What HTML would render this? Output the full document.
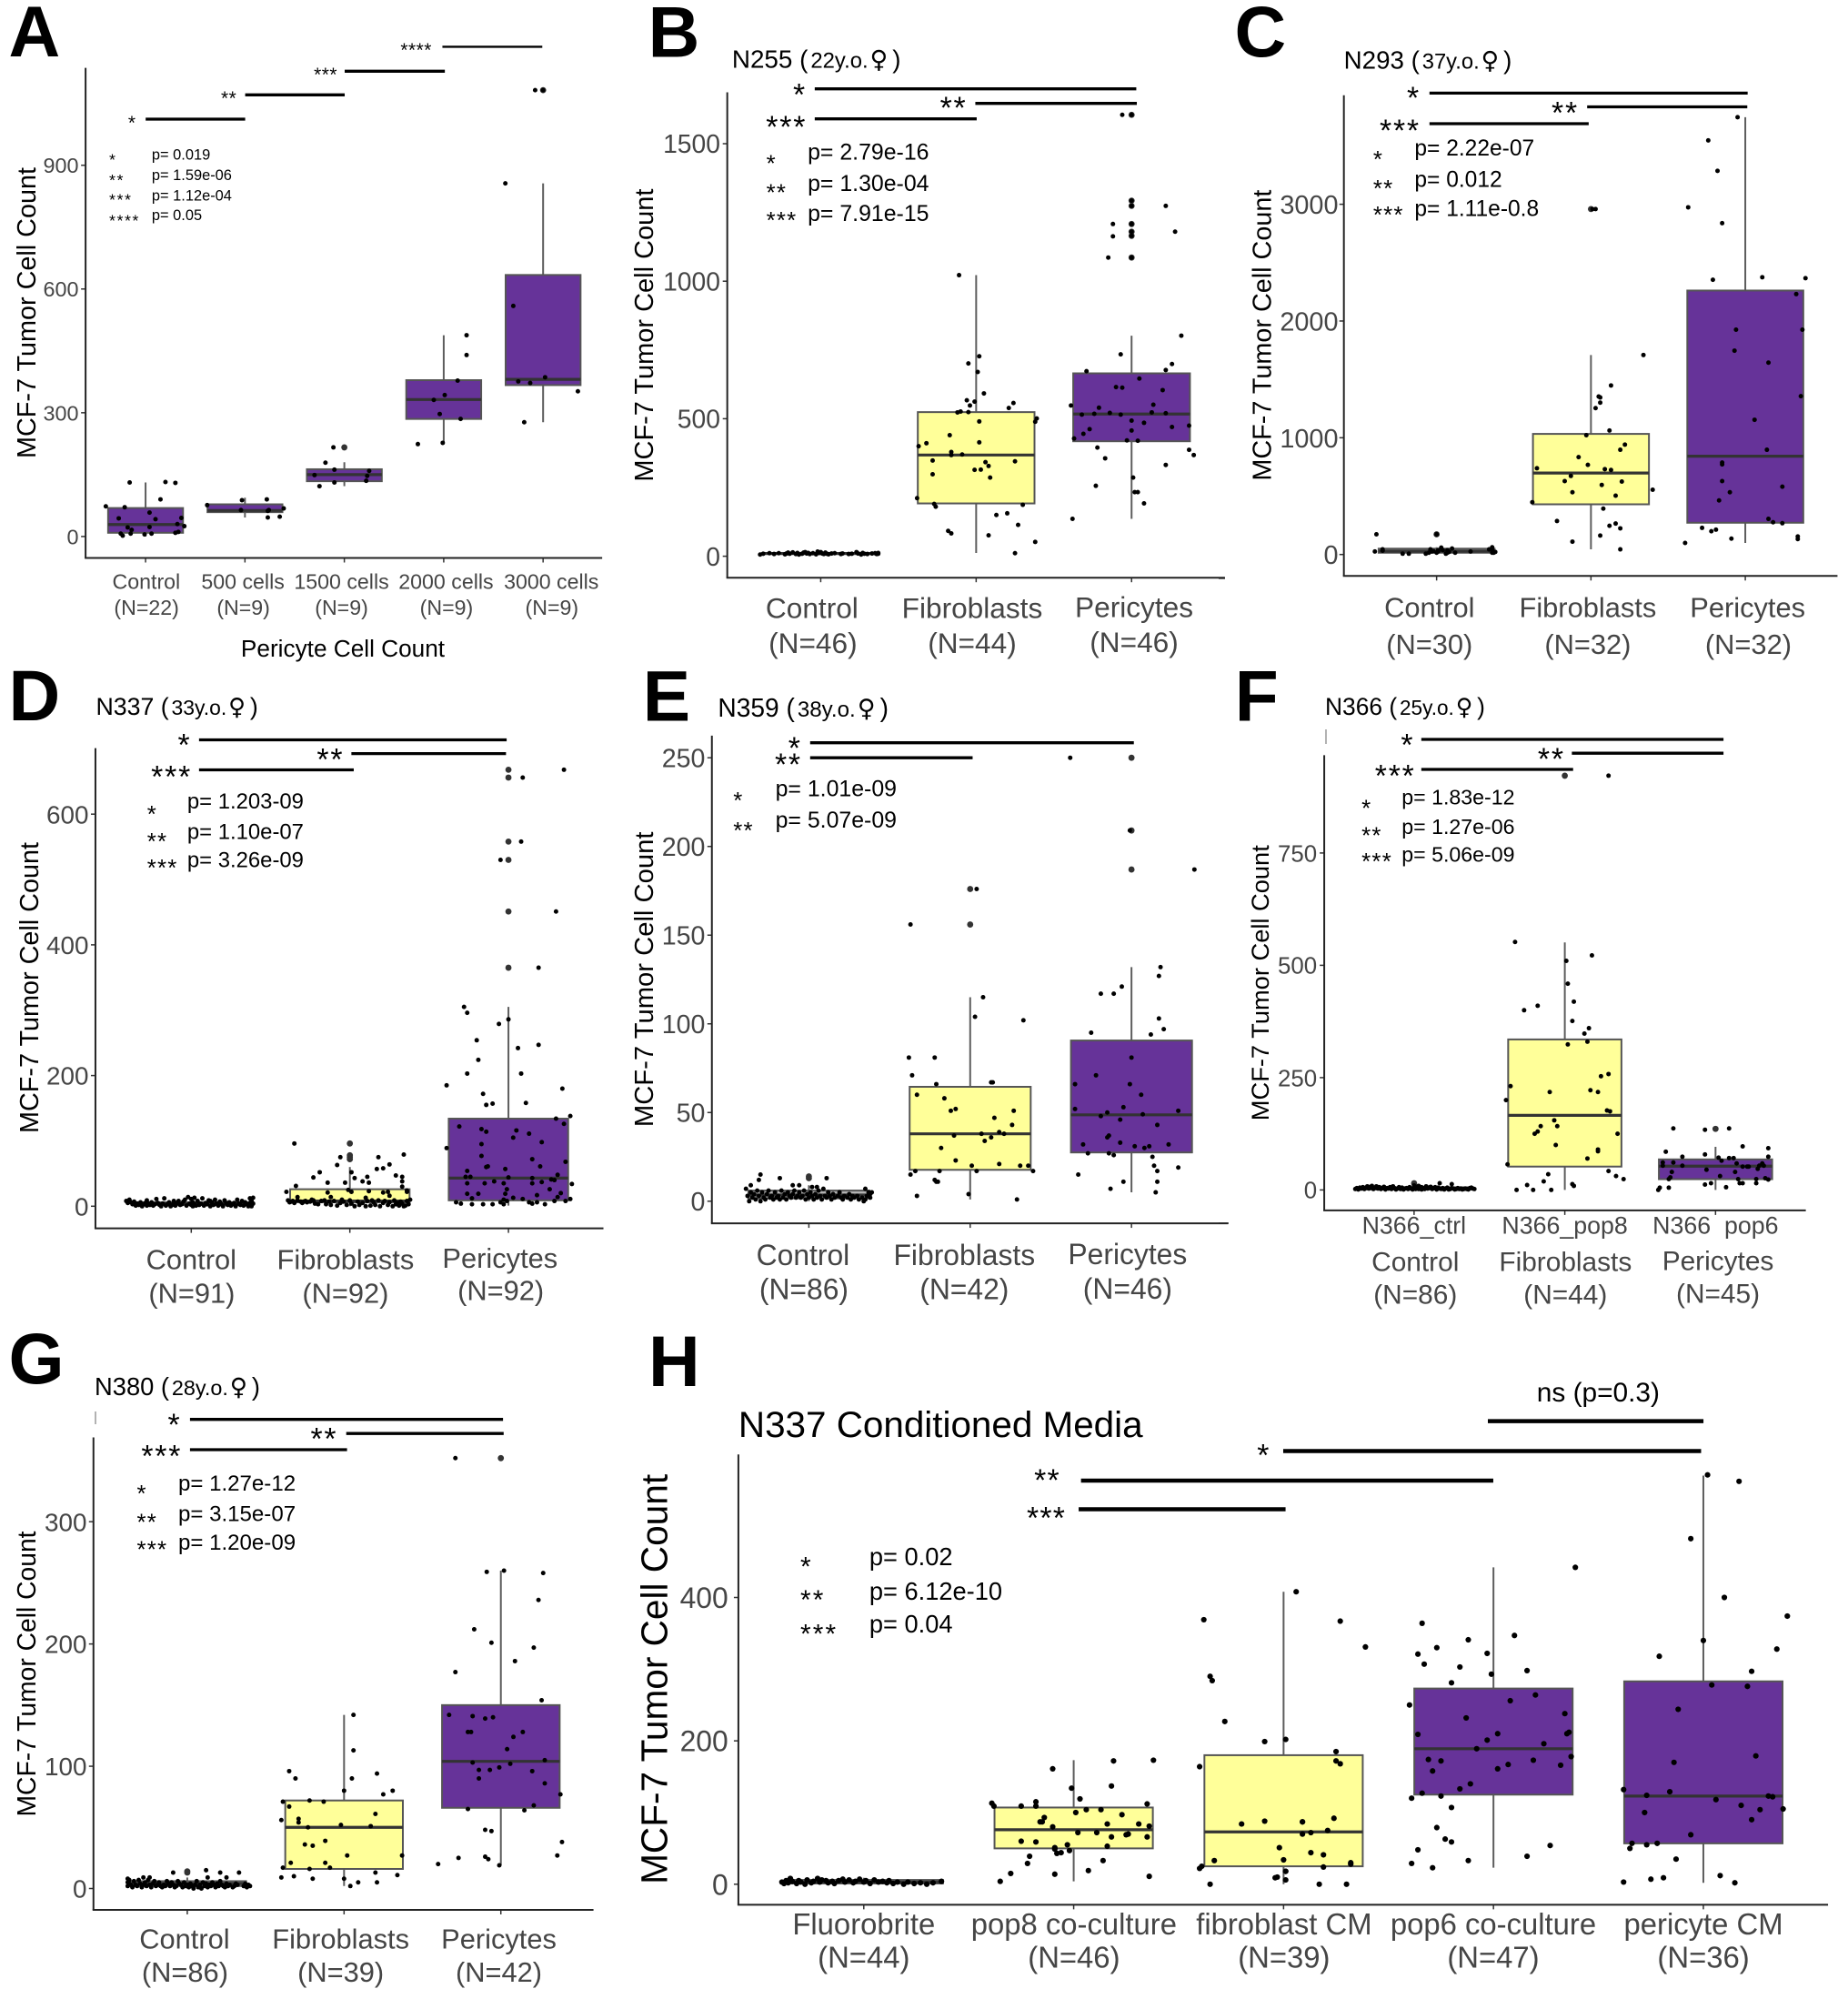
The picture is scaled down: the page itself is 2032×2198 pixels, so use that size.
<!DOCTYPE html>
<html lang="en">
<head>
<meta charset="utf-8">
<title>MCF-7 Tumor Cell Count box plots</title>
<style>
html,body{margin:0;padding:0;background:#fff;}
svg{display:block;font-family:"Liberation Sans",sans-serif;}
.letter{font-weight:700;font-size:78.5px;fill:#000;}
</style>
</head>
<body>
<svg id="figure" width="2032" height="2198" viewBox="0 0 2032 2198" xmlns="http://www.w3.org/2000/svg">
<rect x="0" y="0" width="2032" height="2198" fill="#ffffff"/>
<text class="letter" x="9.5" y="62">A</text>
<text class="letter" x="712.6" y="62.3">B</text>
<text class="letter" x="1357.5" y="62">C</text>
<text class="letter" x="9.5" y="792">D</text>
<text class="letter" x="706.8" y="792.5">E</text>
<text class="letter" x="1357.7" y="792.5">F</text>
<text class="letter" x="9.5" y="1521">G</text>
<text class="letter" x="713" y="1524">H</text>
<line x1="1340" y1="636" x2="1347" y2="636" stroke="#444" stroke-width="1.5"/>
<line x1="1340" y1="1345" x2="1351" y2="1345" stroke="#444" stroke-width="1.5"/>
<line x1="1458" y1="802" x2="1458" y2="818" stroke="#999" stroke-width="1.5"/>
<line x1="105" y1="1552" x2="105" y2="1566" stroke="#999" stroke-width="1.5"/>
</svg>
<script>
/* ---------- Panel A data ---------- */
const aCategories=["Control","500 cells","1500 cells","2000 cells","3000 cells"];
const aCounts=["(N=22)","(N=9)","(N=9)","(N=9)","(N=9)"];
const aTicks=[0,300,600,900];
const aQ1=[9,59,134,285,367];
const aMedian=[29,63,150,332,381];
const aQ3=[69,78,163,379,634];
const aLow=[0,46,122,226,277];
const aHigh=[131,94,180,488,856];
const aOutliers=[[],[],[216],[],[1082]];
const aPoints=[
[[-40,73],[-16,131],[20,132],[30,130],[15,90],[-21,71],[4,58],[-27,44],[10,42],[36,45],[32,30],[39,25],[-18,22],[-14,16],[4,23],[-25,7],[-15,7],[6,7],[-1,5],[-23,2],[30,9],[33,11]],
[[-38,76],[-3,88],[22,90],[-4,64],[23,62],[24,64],[39,68],[35,48],[23,46]],
[[-11,216],[-19,179],[-10,162],[-30,149],[-25,122],[-10,131],[25,159],[23,147],[22,135]],
[[23,488],[23,440],[14,378],[1,343],[-10,331],[-4,297],[17,285],[-26,224],[-1,227]],
[[-8,1082],[-38,856],[-30,559],[2,386],[-25,376],[-13,372],[35,352],[-19,277],[0,1082]]
];

/* ---------- Panel B data ---------- */
const bCategories=["Control","Fibroblasts","Pericytes"];
const bCounts=["(N=46)","(N=44)","(N=46)"];
const bTicks=[0,500,1000,1500];
const bQ1=[8,192,418];
const bMedian=[10,368,517];
const bQ3=[12,524,665];
const bLow=[6,12,136];
const bHigh=[17,1022,802];
const bOutliers=[[],[],[1605,1293,1274,1208,1180,1165,1086]];
const bPoints=[
[[-39,6],[-37,9],[-33,11],[-30,8],[-27,11],[-23,7],[-22,10],[-21,13],[-20,9],[-18,14],[-16,8],[-15,12],[-14,6],[-12,9],[-11,13],[-10,15],[-9,10],[-8,12],[-7,8],[-5,11],[-3,7],[-2,17],[-1,12],[0,15],[1,10],[2,8],[3,13],[4,9],[5,7],[7,10],[9,11],[13,8],[14,10],[18,8],[20,9],[23,15],[24,10],[26,6],[27,12],[28,9],[30,8],[33,10],[35,11],[36,8],[37,12],[37,9]],
[[-11,1022],[2,727],[-5,701],[1,670],[5,592],[-6,567],[-1,562],[-4,548],[24,557],[21,539],[-12,523],[-10,526],[-5,524],[39,501],[38,489],[2,490],[-17,440],[2,414],[-37,400],[-32,411],[-16,379],[-16,368],[-9,370],[-28,348],[25,345],[6,342],[8,328],[3,315],[-1,314],[-28,298],[9,286],[-38,211],[-27,190],[-26,180],[13,150],[20,156],[30,187],[27,114],[-18,92],[-16,83],[8,76],[38,52],[25,11]],
[[-6,1605],[0,1605],[0,1293],[0,1274],[22,1274],[-12,1208],[0,1208],[28,1180],[0,1180],[0,1165],[-12,1163],[-15,1086],[0,1086],[32,802],[-7,734],[26,699],[22,677],[-29,673],[5,646],[-10,615],[-6,613],[20,604],[-39,548],[-21,540],[14,551],[-14,521],[-24,518],[-32,515],[-7,515],[13,523],[22,520],[0,493],[8,485],[-27,462],[26,470],[37,475],[0,457],[-31,445],[-37,428],[-3,421],[4,420],[-22,395],[37,387],[40,368],[-17,356],[22,332],[1,286],[-23,256],[2,233],[4,233],[8,192],[-38,136]]
];

/* ---------- Panel C data ---------- */
const cCategories=["Control","Fibroblasts","Pericytes"];
const cCounts=["(N=30)","(N=32)","(N=32)"];
const cTicks=[0,1000,2000,3000];
const cQ1=[15,430,272];
const cMedian=[29,698,842];
const cQ3=[50,1033,2261];
const cLow=[7,44,99];
const cHigh=[62,1709,3746];
const cOutliers=[[173],[2959],[]];
const cPoints=[
[[-39,173],[0,173],[-40,26],[-35,44],[-35,33],[-22,7],[-18,7],[-7,7],[-4,44],[-3,26],[0,15],[1,37],[3,59],[4,37],[6,7],[7,37],[8,22],[10,51],[12,15],[22,26],[34,44],[36,62],[37,15],[38,22],[36,44],[-2,29],[-5,15],[1,26],[7,15],[36,15]],
[[1,2959],[3,2959],[34,1709],[13,1448],[5,1353],[6,1345],[6,1301],[3,1254],[12,1062],[-3,1022],[22,941],[19,897],[-8,834],[-2,768],[-35,739],[9,731],[13,724],[-13,673],[-17,629],[20,625],[7,596],[40,555],[-12,533],[16,504],[-38,448],[8,393],[-22,287],[16,265],[12,246],[19,224],[6,162],[-12,110],[19,44]],
[[-5,3746],[-24,3547],[-18,3286],[-37,2974],[-15,2838],[-21,2353],[11,2375],[39,2367],[33,2231],[-6,1926],[37,1926],[-7,1746],[15,1643],[36,1356],[6,1154],[14,897],[-15,787],[-15,772],[-15,629],[24,581],[-10,533],[-17,463],[15,305],[18,276],[24,268],[-28,228],[-22,199],[-19,213],[-9,136],[34,154],[34,132],[-39,99]]
];

/* ---------- Panel D data ---------- */
const dCategories=["Control","Fibroblasts","Pericytes"];
const dCounts=["(N=91)","(N=92)","(N=92)"];
const dTicks=[0,200,400,600];
const dQ1=[2,6,9];
const dMedian=[4,8,43];
const dQ3=[6,26,134];
const dLow=[0,0,1];
const dHigh=[12,60,305];
const dOutliers=[[],[96,78,75,72],[668,656,558,530,451,365]];
const dPoints=[
[[-41,8],[-40,5],[-39,10],[-38,6],[-37,3],[-36,7],[-35,1],[-34,4],[-33,2],[-32,6],[-31,0],[-30,3],[-29,5],[-28,1],[-27,4],[-26,2],[-25,6],[-24,1],[-23,3],[-22,11],[-21,5],[-20,2],[-19,0],[-18,4],[-17,12],[-16,1],[-15,3],[-14,6],[-13,0],[-12,2],[-11,4],[-10,1],[-9,5],[-8,8],[-7,2],[-6,3],[-5,7],[-4,10],[-3,1],[-2,14],[-1,4],[0,11],[0,2],[1,6],[1,0],[2,13],[2,3],[3,1],[4,8],[5,2],[6,4],[7,12],[8,1],[9,5],[10,3],[11,9],[12,0],[13,6],[14,2],[15,10],[16,4],[17,1],[18,7],[19,3],[20,0],[21,9],[22,5],[23,2],[24,6],[25,1],[26,3],[27,5],[28,0],[29,10],[30,4],[31,2],[32,8],[33,1],[34,6],[35,3],[36,0],[37,5],[37,12],[38,2],[38,8],[39,13],[39,4],[38,0],[-28,9],[12,8],[-11,8]],
[[-35,96],[34,79],[-6,75],[18,75],[25,64],[21,58],[17,57],[-8,63],[-19,52],[-23,44],[1,52],[3,43],[11,45],[29,47],[33,45],[33,38],[33,30],[-14,36],[-3,36],[8,38],[12,36],[-34,31],[-1,25],[1,22],[-14,21],[36,24],[-40,22],[12,23],[21,21],[24,22],[36,22],[-12,14],[10,13],[25,16],[-33,14],[-39,9],[-38,6],[-36,8],[-35,5],[-33,9],[-31,7],[-30,5],[-28,8],[-27,6],[-25,7],[-23,9],[-22,4],[-20,3],[-18,8],[-16,9],[-15,3],[-13,7],[-12,2],[-10,8],[-8,1],[-6,5],[-4,7],[-2,2],[0,9],[1,4],[3,0],[5,7],[6,2],[8,5],[10,0],[11,8],[13,1],[15,6],[16,2],[18,9],[19,0],[21,5],[22,8],[24,2],[25,6],[27,0],[28,9],[29,3],[31,1],[32,7],[33,4],[35,1],[36,8],[37,3],[38,10],[34,0],[30,5],[-37,7],[-29,7],[-5,10],[14,9],[-24,10]],
[[35,668],[9,656],[8,558],[-5,530],[30,451],[19,365],[-28,305],[-26,296],[0,286],[-6,279],[-20,254],[19,247],[6,242],[-19,224],[-26,203],[8,203],[-39,185],[34,180],[-16,172],[-14,155],[-10,157],[11,158],[30,134],[39,138],[-31,122],[-17,118],[-14,114],[5,116],[13,111],[3,105],[21,98],[-17,95],[-39,89],[-17,77],[15,72],[36,68],[35,126],[20,61],[-14,60],[-13,61],[-2,57],[-26,54],[31,48],[-27,45],[-24,45],[15,43],[21,37],[27,41],[29,40],[-26,35],[-15,35],[-9,38],[-3,35],[0,44],[15,35],[40,34],[26,26],[-1,26],[-26,19],[-19,19],[-2,19],[18,17],[33,20],[-23,12],[3,13],[31,14],[9,11],[-3,10],[39,11],[29,8],[-33,6],[-30,4],[-23,3],[-16,3],[-10,3],[-3,3],[-1,8],[13,6],[15,4],[23,3],[36,8],[18,6],[-5,6]]
];

/* ---------- Panel E data ---------- */
const eCategories=["Control","Fibroblasts","Pericytes"];
const eCounts=["(N=86)","(N=42)","(N=46)"];
const eTicks=[0,50,100,150,200,250];
const eQ1=[1.6,17.7,27.5];
const eMedian=[3.5,38,48.7];
const eQ3=[6,64.5,90.6];
const eLow=[0,1,5];
const eHigh=[9,115,132];
const eOutliers=[[14,13],[176,156],[250,209,187]];
const ePoints=[
[[-30,15],[-31,12],[-18,13],[11,13],[-36,9],[-10,9],[-6,9],[2,8],[5,8],[35,7],[-39,7],[-38,3],[-37,0],[-36,5],[-35,2],[-34,4],[-33,1],[-32,6],[-31,3],[-30,0],[-29,5],[-28,2],[-27,1],[-26,4],[-25,6],[-24,2],[-23,3],[-22,1],[-21,5],[-20,2],[-19,3],[-18,1],[-17,6],[-16,2],[-15,4],[-14,1],[-13,5],[-12,3],[-11,2],[-10,4],[-9,6],[-8,2],[-7,3],[-6,5],[-5,2],[-4,3],[-3,6],[-2,1],[-1,4],[0,2],[1,5],[2,3],[3,1],[4,4],[5,2],[6,6],[7,3],[8,1],[9,7],[10,3],[11,2],[12,5],[13,3],[14,1],[15,4],[16,2],[18,3],[19,5],[20,2],[21,1],[22,3],[24,2],[25,4],[26,1],[27,3],[28,2],[30,3],[31,1],[33,2],[34,0],[35,1],[36,3],[37,5],[38,4],[38,2],[39,5]],
[[4,176],[-37,156],[8,115],[3,104],[33,102],[-38,81],[-22,81],[-36,71],[13,67],[14,67],[-21,66],[-33,60],[-16,58],[-12,51],[-9,52],[27,51],[15,47],[26,43],[18,39],[7,38],[-10,37],[21,38],[13,36],[9,34],[-18,30],[-9,23],[18,21],[31,20],[36,20],[1,20],[-34,17],[-19,17],[4,17],[39,17],[-37,15],[-22,12],[-21,11],[-20,11],[-1,4],[-33,3],[29,1]],
[[-38,250],[-1,209],[39,187],[18,132],[17,127],[-6,121],[-19,117],[-11,117],[17,103],[20,97],[-25,95],[12,94],[0,81],[-22,71],[-1,66],[-35,66],[6,60],[-5,53],[-35,52],[29,51],[-15,50],[-19,48],[7,49],[-7,46],[16,43],[-15,36],[-14,37],[-7,33],[23,32],[-30,32],[2,31],[11,31],[8,30],[-14,27],[-27,27],[-11,26],[13,25],[14,20],[29,19],[16,17],[-33,15],[-5,11],[16,11],[-13,7],[15,5]]
];

/* ---------- Panel F data ---------- */
const fCategories=["Control","Fibroblasts","Pericytes"];
const fCounts=["(N=86)","(N=44)","(N=45)"];
const fSubLabels=["N366_ctrl","N366_pop8","N366\u00a0\u00a0pop6"];
const fTicks=[0,250,500,750];
const fQ1=[1,52,24];
const fMedian=[3,166,53];
const fQ3=[6,335,68];
const fLow=[0,0,0];
const fHigh=[10,551,96];
const fOutliers=[[15],[922],[136]];
const fPoints=[
[[17,15],[25,13],[-39,2],[-38,4],[-37,1],[-36,5],[-35,3],[-34,6],[-33,2],[-32,5],[-31,8],[-30,3],[-29,6],[-28,9],[-27,2],[-26,5],[-25,8],[-24,3],[-23,6],[-22,2],[-21,4],[-20,7],[-19,1],[-18,4],[-17,3],[-16,6],[-15,2],[-14,8],[-13,4],[-12,1],[-11,3],[-10,6],[-9,2],[-8,5],[-7,1],[-6,3],[-5,4],[-4,2],[-3,6],[-2,3],[-1,1],[0,10],[0,4],[1,7],[1,2],[2,5],[3,2],[3,9],[4,3],[5,1],[5,6],[6,4],[7,2],[8,8],[9,3],[10,5],[11,7],[12,2],[13,4],[14,6],[15,1],[16,5],[17,3],[18,2],[19,4],[20,1],[21,3],[22,5],[23,1],[24,2],[25,4],[26,3],[27,1],[28,2],[29,4],[30,2],[31,3],[32,1],[33,2],[34,3],[35,2],[36,1],[37,4],[38,5],[39,3],[40,2]],
[[29,922],[-33,552],[18,522],[1,510],[2,459],[6,419],[-27,400],[-18,410],[5,376],[16,360],[13,348],[15,330],[2,324],[29,258],[24,253],[-36,231],[17,222],[22,218],[-10,218],[-39,200],[28,177],[30,175],[-7,155],[-16,142],[-5,142],[-18,130],[-20,125],[35,125],[-6,100],[22,90],[22,86],[15,70],[-38,57],[29,42],[-11,35],[34,31],[39,24],[-14,19],[5,13],[6,9],[-25,11],[-32,0],[-21,0],[-9,0]],
[[-28,137],[-7,134],[9,137],[18,97],[35,93],[-33,85],[-7,79],[-22,74],[9,71],[12,71],[35,74],[4,65],[-35,61],[-28,61],[14,59],[31,59],[-35,54],[-22,54],[18,52],[21,52],[22,52],[29,54],[32,54],[28,47],[-29,40],[13,40],[3,31],[-30,28],[-31,24],[15,24],[27,24],[33,26],[35,23],[16,15],[-7,12],[-3,15],[18,15],[27,15],[7,6],[-31,5],[-37,5],[-38,0],[2,72],[-6,45]]
];

/* ---------- Panel G data ---------- */
const gCategories=["Control","Fibroblasts","Pericytes"];
const gCounts=["(N=86)","(N=39)","(N=42)"];
const gTicks=[0,100,200,300];
const gQ1=[2,16,66];
const gMedian=[4,50,104];
const gQ3=[6,72,150];
const gLow=[0,2,19];
const gHigh=[9,142,260];
const gOutliers=[[14,13],[],[352]];
const gPoints=[
[[-9,13],[12,15],[21,13],[33,13],[25,9],[13,9],[-24,9],[-28,9],[-38,8],[-38,5],[-38,2],[-37,7],[-37,4],[-36,3],[-35,1],[-34,6],[-33,3],[-32,2],[-31,7],[-30,4],[-29,1],[-28,3],[-27,5],[-26,2],[-25,7],[-24,3],[-23,1],[-22,4],[-21,6],[-20,2],[-19,3],[-18,5],[-17,2],[-16,1],[-15,3],[-14,2],[-13,6],[-12,4],[-11,2],[-10,5],[-9,3],[-8,1],[-7,2],[-6,6],[-5,4],[-4,3],[-3,1],[-2,5],[-1,2],[0,3],[1,1],[2,4],[3,2],[4,0],[5,3],[6,6],[7,1],[8,3],[9,0],[10,5],[11,2],[12,4],[13,1],[14,3],[15,2],[16,5],[17,3],[18,1],[19,4],[20,2],[21,6],[22,3],[23,2],[24,1],[25,4],[26,2],[27,3],[29,1],[30,2],[31,4],[32,3],[36,2],[37,4],[38,1],[39,3],[40,2]],
[[6,142],[6,113],[-35,96],[-31,90],[5,90],[21,94],[0,80],[31,80],[25,77],[-22,72],[-39,71],[-13,71],[-35,67],[20,61],[-40,56],[-29,57],[-29,54],[-23,50],[-2,52],[17,51],[-12,39],[-25,36],[-20,35],[2,27],[37,27],[-34,21],[-12,21],[-9,17],[-39,17],[-22,16],[20,13],[34,11],[-40,9],[-32,10],[-20,8],[0,8],[9,5],[21,5],[4,2]],
[[-29,352],[2,260],[-9,259],[27,258],[24,236],[-17,212],[-6,201],[21,197],[9,186],[-29,177],[26,154],[-33,142],[-18,141],[-10,139],[-5,140],[-21,128],[-19,128],[14,128],[8,124],[4,114],[-18,103],[6,102],[28,105],[-14,97],[-7,97],[-1,99],[20,96],[-14,90],[28,86],[38,77],[21,68],[-21,65],[15,64],[-10,48],[-6,47],[39,38],[36,27],[-10,26],[-8,24],[-27,25],[-40,20],[-1,19]]
];

/* ---------- Panel H data ---------- */
const hCategories=["Fluorobrite","pop8 co-culture","fibroblast CM","pop6 co-culture","pericyte CM"];
const hCounts=["(N=44)","(N=46)","(N=39)","(N=47)","(N=36)"];
const hTicks=[0,200,400];
const hQ1=[1,50,25,125,57];
const hMedian=[3,76,73,189,123];
const hQ3=[6,107,180,273,283];
const hLow=[0,4,0,23,2];
const hHigh=[9,173,408,442,570];
const hOutliers=[[],[],[],[],[]];
const hPoints=[
[[-39,3],[-38,1],[-37,5],[-36,2],[-35,8],[-34,4],[-32,1],[-31,5],[-30,3],[-28,0],[-27,6],[-25,2],[-24,4],[-22,8],[-21,3],[-20,6],[-18,5],[-17,2],[-15,4],[-14,1],[-12,5],[-10,7],[-9,3],[-7,6],[-5,2],[-4,4],[-2,7],[0,3],[1,5],[3,1],[5,6],[7,3],[9,4],[11,2],[12,5],[14,1],[16,3],[19,0],[21,3],[24,1],[27,2],[30,0],[33,2],[37,4]],
[[-10,161],[19,172],[38,173],[18,137],[-1,134],[3,119],[-39,113],[-38,109],[-25,109],[-18,115],[-18,109],[35,112],[1,100],[6,104],[13,104],[23,97],[-14,93],[-16,87],[-15,87],[16,84],[31,84],[-10,80],[36,81],[2,72],[11,72],[26,70],[25,69],[18,66],[35,66],[-25,60],[-18,59],[-3,55],[16,53],[-9,51],[-2,47],[-6,44],[-21,39],[14,33],[-22,29],[7,19],[-30,15],[-9,14],[36,11],[-35,4],[-9,49],[-8,43]],
[[6,408],[-38,369],[27,367],[39,331],[-35,290],[-34,284],[-28,227],[-9,199],[1,202],[25,185],[25,172],[27,168],[-40,164],[24,92],[-9,88],[-20,84],[9,87],[9,87],[21,75],[13,72],[9,70],[-2,51],[13,44],[19,41],[0,34],[-33,33],[32,30],[32,28],[-39,25],[-40,22],[19,24],[1,18],[1,18],[-3,10],[-4,9],[1,6],[-35,0],[17,0],[30,0]],
[[39,442],[-34,364],[-12,341],[10,347],[-27,330],[-3,322],[-36,321],[-33,307],[-16,303],[16,298],[-1,293],[-20,281],[20,264],[8,256],[-40,250],[34,238],[-13,232],[-36,209],[2,210],[36,212],[35,210],[-3,201],[24,196],[-8,189],[37,178],[-31,174],[-25,172],[19,173],[7,167],[32,166],[2,161],[-29,158],[-11,140],[-16,133],[-34,127],[-25,123],[-39,120],[-20,107],[-27,79],[-23,63],[-20,59],[27,54],[-36,48],[16,39],[-12,33],[-39,29],[-29,23]],
[[2,571],[17,562],[-6,482],[10,400],[40,374],[0,340],[35,328],[-21,318],[23,297],[4,278],[21,276],[-12,244],[25,179],[-14,170],[-38,132],[-16,129],[-27,124],[31,123],[33,122],[6,118],[18,110],[38,105],[27,104],[-28,100],[23,90],[-6,69],[-34,57],[-27,55],[-22,57],[-35,50],[-13,35],[-19,9],[-25,7],[8,12],[-38,3],[15,2]]
];

/* ---------- Layout (geometry and annotation text, no data) ---------- */
const PURPLE="#663399",YELLOW="#ffff99",GREY="#b5b5b5";
const XFIT=0.9948;
const panels=[
{id:"a",ox:0,categories:aCategories,counts:aCounts,ticks:aTicks,q1:aQ1,median:aMedian,q3:aQ3,low:aLow,high:aHigh,outliers:aOutliers,points:aPoints,
 fills:[PURPLE,PURPLE,PURPLE,PURPLE,PURPLE],left:94.6,right:665.6,top:74.6,bottom:613.5,zeroPx:589.9,refTick:900,refPx:181.7,first:160.9,step:109.85,half:41.4,
 tickRight:87,tickFont:23.5,catFont:23.3,catX:[161.7,268.5,377.5,493,609.4],nX:[162,269,377.5,493.5,610],catY:[647.5,647.5,647.5,647.5,647.5],nY:[675.8,675.8,675.8,675.8,675.8],
 yTitle:{x:39,cy:344,len:320,font:29},r:2.5,rOut:3.4,
 bars:[[161,271,131,3.3],[271,381,104.3,3.3],[381,491.7,78.3,3.3],[489,599.4,51.4,2.4]],
 stars:[["*",146,131,21,.5],["**",253,104,21,.5],["***",360,78,21,.5],["****",460,51,21,.5]],
 legendStars:[["*",120.7,172],["**",120.7,194.4],["***",120.7,216],["****",120.7,239]],legendStarFont:18,legendStarGap:1.5,
 pLabels:[["p= 0.019",167.8,175.6],["p= 1.59e-06",167.8,198],["p= 1.12e-04",167.8,220.4],["p= 0.05",167.8,242]],pFont:16.5},
{id:"b",ox:680,categories:bCategories,counts:bCounts,ticks:bTicks,q1:bQ1,median:bMedian,q3:bQ3,low:bLow,high:bHigh,outliers:bOutliers,points:bPoints,
 fills:[GREY,YELLOW,PURPLE],left:800.3,right:1350.4,top:101.5,bottom:635.2,zeroPx:611.6,refTick:1500,refPx:158,first:903.6,step:171.8,half:64.5,
 tickRight:792.5,tickFont:28.4,catFont:31.8,catX:[894,1071,1250],nX:[895,1071,1250],catY:[679.6,679.6,678.6],nY:[718,718,717],
 yTitle:{x:718.4,cy:368.6,len:322,font:29},r:2.5,rOut:3.4,
 title:{name:"N255 (",age:"22y.o.",x:805.5,y:74.6,scale:1},
 bars:[[897,1252.4,97.7,3.3],[1074.5,1253,113.7,3.3],[897,1076,130.7,3.3]],
 stars:[["*",880.5,97.7,34,1.8],["**",1050.5,112,34,1.8],["***",865.7,133,34,1.8]],
 legendStars:[["*",843.5,174.6],["**",843.5,206.7],["***",843.5,237]],legendStarFont:26,legendStarGap:1.2,
 pLabels:[["p= 2.79e-16",889.2,175.6],["p= 1.30e-04",889.2,210],["p= 7.91e-15",889.2,243]],pFont:25},
{id:"c",ox:1340,categories:cCategories,counts:cCounts,ticks:cTicks,q1:cQ1,median:cMedian,q3:cQ3,low:cLow,high:cHigh,outliers:cOutliers,points:cPoints,
 fills:[GREY,YELLOW,PURPLE],left:1478.4,right:2024,top:104.8,bottom:633.3,zeroPx:609.7,refTick:3000,refPx:224.6,first:1580.9,step:170.6,half:64.1,
 tickRight:1472.2,tickFont:29,catFont:31,catX:[1573,1748,1924.7],nX:[1573,1748,1925.5],catY:[678.6,678.6,678.6],nY:[719,719,719],
 yTitle:{x:1397.7,cy:368.6,len:320,font:29},r:2.5,rOut:3.4,
 title:{name:"N293 (",age:"37y.o.",x:1478.4,y:75.5,scale:.995},
 bars:[[1573,1924.7,102.4,3.3],[1747.3,1924.3,117.5,3.3],[1573,1749,136,3.3]],
 stars:[["*",1555.6,101,34,1.8],["**",1723,117.5,34,1.8],["***",1540.5,137,34,1.8]],
 legendStars:[["*",1510.8,170],["**",1510.8,202],["***",1510.8,231]],legendStarFont:26,legendStarGap:1.2,
 pLabels:[["p= 2.22e-07",1556.5,170.8],["p= 0.012",1556.5,205.3],["p= 1.11e-0.8",1556.5,237.4]],pFont:24.7},
{id:"d",ox:0,categories:dCategories,counts:dCounts,ticks:dTicks,q1:dQ1,median:dMedian,q3:dQ3,low:dLow,high:dHigh,outliers:dOutliers,points:dPoints,
 fills:[GREY,YELLOW,PURPLE],left:105.5,right:667,top:822.6,bottom:1350.6,zeroPx:1326.3,refTick:600,refPx:895.2,first:211.4,step:175.3,half:66,
 tickRight:98,tickFont:28,catFont:31,catX:[211.4,381.9,552.7],nX:[212,381.9,553.5],catY:[1395.6,1395.6,1393.8],nY:[1432.4,1432.4,1429.6],
 yTitle:{x:42.3,cy:1086,len:320,font:29},r:2.5,rOut:3.4,
 title:{name:"N337 (",age:"33y.o.",x:106,y:786,scale:.96},
 bars:[[220,560,813.5,3.3],[388.4,559.3,828.6,3.3],[220,391,846.5,3.3]],
 stars:[["*",204,812.5,34,1.8],["**",365.3,828.6,34,1.8],["***",189.6,847.4,34,1.8]],
 legendStars:[["*",162.6,890],["**",162.6,920.4],["***",162.6,949.4]],legendStarFont:26,legendStarGap:1.2,
 pLabels:[["p= 1.203-09",207,889.2],["p= 1.10e-07",207,922.3],["p= 3.26e-09",207,953.5]],pFont:24},
{id:"e",ox:680,categories:eCategories,counts:eCounts,ticks:eTicks,q1:eQ1,median:eMedian,q3:eQ3,low:eLow,high:eHigh,outliers:eOutliers,points:ePoints,
 fills:[GREY,YELLOW,PURPLE],left:783.3,right:1353.9,top:808.9,bottom:1345.1,zeroPx:1320.8,refTick:250,refPx:833.2,first:890.5,step:178.3,half:66.9,
 tickRight:775.9,tickFont:28.7,catFont:32,catX:[884,1062.3,1242.8],nX:[885,1062.3,1242.8],catY:[1391,1391,1390],nY:[1428.7,1428.7,1427.8],
 yTitle:{x:718.4,cy:1076.8,len:324.6,font:29},r:2.5,rOut:3.4,
 title:{name:"N359 (",age:"38y.o.",x:790,y:788,scale:1.01},
 bars:[[891.9,1249.7,816.7,3.3],[891.9,1071.5,833.2,3.3]],
 stars:[["*",875.3,815.8,34,1.8],["**",867.9,834,34,1.8]],
 legendStars:[["*",806.9,875.4],["**",806.9,908]],legendStarFont:26,legendStarGap:1.2,
 pLabels:[["p= 1.01e-09",853.5,875.4],["p= 5.07e-09",853.5,909.9]],pFont:25},
{id:"f",ox:1340,categories:fCategories,counts:fCounts,subLabels:fSubLabels,ticks:fTicks,q1:fQ1,median:fMedian,q3:fQ3,low:fLow,high:fHigh,outliers:fOutliers,points:fPoints,
 fills:[GREY,YELLOW,PURPLE],left:1456.7,right:1989,top:830.4,bottom:1330.9,zeroPx:1308.4,refTick:750,refPx:937.9,first:1556,step:166.6,half:62.6,
 tickRight:1448.7,tickFont:26,catFont:30,catX:[1557.4,1723.3,1891.9],nX:[1557.4,1723.3,1891.9],catY:[1397.5,1397.5,1396.6],nY:[1433.3,1433.3,1432.4],subY:1356.6,subFont:26.9,
 yTitle:{x:1395.5,cy:1080.7,len:303,font:27},r:2.5,rOut:3.4,
 title:{name:"N366 (",age:"25y.o.",x:1457.6,y:786,scale:.947},
 bars:[[1564,1898,813,3.3],[1730.4,1898,828.2,3.3],[1564,1731.8,846,3.3]],
 stars:[["*",1549,812.5,34,1.8],["**",1707.8,828,34,1.8],["***",1535.2,846.5,34,1.8]],
 legendStars:[["*",1498,883.7],["**",1498,913.6],["***",1498,942]],legendStarFont:26,legendStarGap:1.2,
 pLabels:[["p= 1.83e-12",1542.3,884.6],["p= 1.27e-06",1542.3,917.2],["p= 5.06e-09",1542.3,947.5]],pFont:23.3},
{id:"g",ox:0,categories:gCategories,counts:gCounts,ticks:gTicks,q1:gQ1,median:gMedian,q3:gQ3,low:gLow,high:gHigh,outliers:gOutliers,points:gPoints,
 fills:[GREY,YELLOW,PURPLE],left:103.3,right:656,top:1580.5,bottom:2100,zeroPx:2076.5,refTick:300,refPx:1673.2,first:207,step:173.3,half:65,
 tickRight:96,tickFont:28,catFont:31,catX:[204,376.6,551.4],nX:[204.5,376.6,551.4],catY:[2142.4,2142.4,2142.4],nY:[2179,2179,2179],
 yTitle:{x:39.2,cy:1840.5,len:314,font:29},r:2.5,rOut:3.4,
 title:{name:"N380 (",age:"28y.o.",x:104.6,y:1534,scale:.98},
 bars:[[210,556,1560.7,3.3],[382.7,556.7,1576.2,3.3],[210,383.6,1594,3.3]],
 stars:[["*",193,1559.8,34,1.8],["**",358.3,1575.3,34,1.8],["***",178.7,1594.6,34,1.8]],
 legendStars:[["*",151.3,1637.4],["**",151.3,1668.5],["***",151.3,1698.6]],legendStarFont:26,legendStarGap:1.2,
 pLabels:[["p= 1.27e-12",197,1638.8],["p= 3.15e-07",197,1672.7],["p= 1.20e-09",197,1703.8]],pFont:24.2},
{id:"h",ox:680,categories:hCategories,counts:hCounts,ticks:hTicks,q1:hQ1,median:hMedian,q3:hQ3,low:hLow,high:hHigh,outliers:hOutliers,points:hPoints,
 fills:[GREY,YELLOW,YELLOW,PURPLE,PURPLE],left:812.6,right:2017,top:1599.3,bottom:2094.4,zeroPx:2071.8,refTick:400,refPx:1756.5,first:951.2,step:232,half:87.5,
 tickRight:801.3,tickFont:32,catFont:33,catX:[951.2,1183.5,1415.7,1647,1879.3],nX:[951.2,1183.5,1415.7,1647,1879.3],catY:[2126.8,2126.8,2126.8,2126.8,2126.8],nY:[2163.5,2163.5,2163.5,2163.5,2163.5],
 yTitle:{x:733.7,cy:1846.4,len:451,font:41},r:3.1,rOut:3.4,
 plainTitle:{text:"N337 Conditioned Media",x:812.6,y:1580,len:447,font:40},
 note:{text:"ns (p=0.3)",x:1763,y:1541,font:30},
 bars:[[1641,1879.3,1562.6,4.5],[1414.8,1876.7,1595.5,4.5],[1191.3,1647,1628,4.5],[1188.7,1417.4,1659.5,4.5]],
 stars:[["*",1393.2,1593.6,34,1.2],["**",1154,1621,34,1.2],["***",1153,1662.4,34,1.2]],
 legendStars:[["*",881,1716.5],["**",881,1753],["***",881,1790.8]],legendStarFont:30,legendStarGap:2.2,
 pLabels:[["p= 0.02",957.3,1721],["p= 6.12e-10",957.3,1758.8],["p= 0.04",957.3,1795]],pFont:27.4}
];

/* ---------- Drawing ---------- */
const svg=document.getElementById("figure");
const NS=svg.namespaceURI;
function make(parent,tag,attrs){
  const el=document.createElementNS(NS,tag);
  for(const k in attrs){el.setAttribute(k,attrs[k]);}
  parent.appendChild(el);
  return el;
}
function makeText(parent,str,attrs){
  const el=make(parent,"text",attrs);
  el.textContent=str;
  return el;
}
function drawPanel(p){
  const unit=(p.zeroPx-p.refPx)/p.refTick;
  const yScale=v=>p.zeroPx-v*unit;
  const xScale=(i,j)=>p.first+p.step*(i+(j||0)/100);

  const g=make(svg,"g",{transform:'translate('+p.ox+' 0) scale('+XFIT+' 1) translate('+(-p.ox)+' 0)'});
  
  

  /* y ticks + labels */
  p.ticks.forEach(t=>{
    const tick=make(g,"line",{x1:p.left-5,x2:p.left,y1:yScale(t),y2:yScale(t),stroke:"#333",'stroke-width':1.5});
    
    
    const lab=makeText(g,String(t),{x:p.tickRight,y:yScale(t)+p.tickFont*.36,'text-anchor':'end','font-size':p.tickFont,fill:'#454545'});
    
    
  });

  /* categories */
  p.categories.forEach((c,i)=>{
    const tick=make(g,"line",{x1:xScale(i),x2:xScale(i),y1:p.bottom,y2:p.bottom+5,stroke:"#333",'stroke-width':1.5});
    
    
    const lab=makeText(g,c,{x:p.catX[i],y:p.catY[i],'text-anchor':'middle','font-size':p.catFont,fill:'#454545'});
    
    
    const n=makeText(g,p.counts[i],{x:p.nX[i],y:p.nY[i],'text-anchor':'middle','font-size':p.catFont,fill:'#454545'});
    
    
    if(p.subLabels){
      const s=makeText(g,p.subLabels[i],{x:xScale(i),y:p.subY,'text-anchor':'middle','font-size':p.subFont,fill:'#454545'});
      
      
    }
  });

  /* boxes */
  p.categories.forEach((c,i)=>{
    const cx=xScale(i);
    const whisker=make(g,"line",{x1:cx,x2:cx,y1:yScale(p.high[i]),y2:yScale(p.low[i]),stroke:"#5c5c5c",'stroke-width':2});
    
    
    const box=make(g,"rect",{x:cx-p.half,y:yScale(p.q3[i]),width:p.half*2,height:Math.max(0,yScale(p.q1[i])-yScale(p.q3[i])),fill:p.fills[i],stroke:"#555",'stroke-width':2});
    
    
    const med=make(g,"line",{x1:cx-p.half,x2:cx+p.half,y1:yScale(p.median[i]),y2:yScale(p.median[i]),stroke:"#333",'stroke-width':3.2});
    
    
    p.outliers[i].forEach(v=>{
      const o=make(g,"circle",{cx:cx,cy:yScale(v),r:p.rOut,fill:"#333"});
      
      
    });
    p.points[i].forEach(pt=>{
      const d=make(g,"circle",{cx:xScale(i,pt[0]),cy:yScale(pt[1]),r:p.r,fill:"#000"});
      
      
    });
  });

  /* axes */
  const yAxis=make(g,"line",{x1:p.left,x2:p.left,y1:p.top,y2:p.bottom,stroke:"#222",'stroke-width':2});
  
  
  const xAxis=make(g,"line",{x1:p.left-1,x2:p.right,y1:p.bottom,y2:p.bottom,stroke:"#222",'stroke-width':2});
  
  

  /* y title */
  const yt=makeText(g,"MCF-7 Tumor Cell Count",{x:p.yTitle.x,y:p.yTitle.cy,'text-anchor':'middle','font-size':p.yTitle.font,fill:'#000',textLength:p.yTitle.len,lengthAdjust:'spacingAndGlyphs',transform:'rotate(-90 '+p.yTitle.x+' '+p.yTitle.cy+')'});
  
  

  /* donor title */
  if(p.title){
    const s=p.title.scale;
    const t=make(g,"text",{x:p.title.x,y:p.title.y,fill:'#000','font-size':28*s});
    
    
    const a=make(t,"tspan",{});
    a.textContent=p.title.name;
    const b=make(t,"tspan",{'font-size':24*s,dx:3*s});
    b.textContent=p.title.age;
    const v=make(t,"tspan",{'font-size':27*s,dx:2*s,style:'font-family:"DejaVu Sans",sans-serif'});
    v.textContent="\u2640";
    const e=make(t,"tspan",{dx:5*s});
    e.textContent=")";
  }
  if(p.plainTitle){
    const t=makeText(g,p.plainTitle.text,{x:p.plainTitle.x,y:p.plainTitle.y,'font-size':p.plainTitle.font,fill:'#000',textLength:p.plainTitle.len,lengthAdjust:'spacingAndGlyphs'});
    
    
  }
  if(p.note){
    const t=makeText(g,p.note.text,{x:p.note.x,y:p.note.y,'text-anchor':'middle','font-size':p.note.font,fill:'#000'});
    
    
  }

  /* significance bars + stars */
  p.bars.forEach(b=>{
    const l=make(g,"line",{x1:b[0],x2:b[1],y1:b[2],y2:b[2],stroke:"#000",'stroke-width':b[3]});
    
    
  });
  p.stars.forEach(s=>{
    const t=makeText(g,s[0],{x:s[1],y:s[2]+s[3]*.53,'text-anchor':'middle','font-size':s[3],'letter-spacing':s[4],fill:'#000'});
    
    
  });

  /* p-value legend */
  p.legendStars.forEach(s=>{
    const t=makeText(g,s[0],{x:s[1],y:s[2]+p.legendStarFont*.53,'font-size':p.legendStarFont,'letter-spacing':p.legendStarGap,fill:'#000'});
    
    
  });
  p.pLabels.forEach(s=>{
    const t=makeText(g,s[0],{x:s[1],y:s[2],'font-size':p.pFont,fill:'#000'});
    
    
  });
}
panels.forEach(drawPanel);

/* Panel A x-axis title */
const xTitleA=makeText(svg,"Pericyte Cell Count",{x:377,y:722,'text-anchor':'middle','font-size':26.2,fill:'#000'});


</script>
</body>
</html>
